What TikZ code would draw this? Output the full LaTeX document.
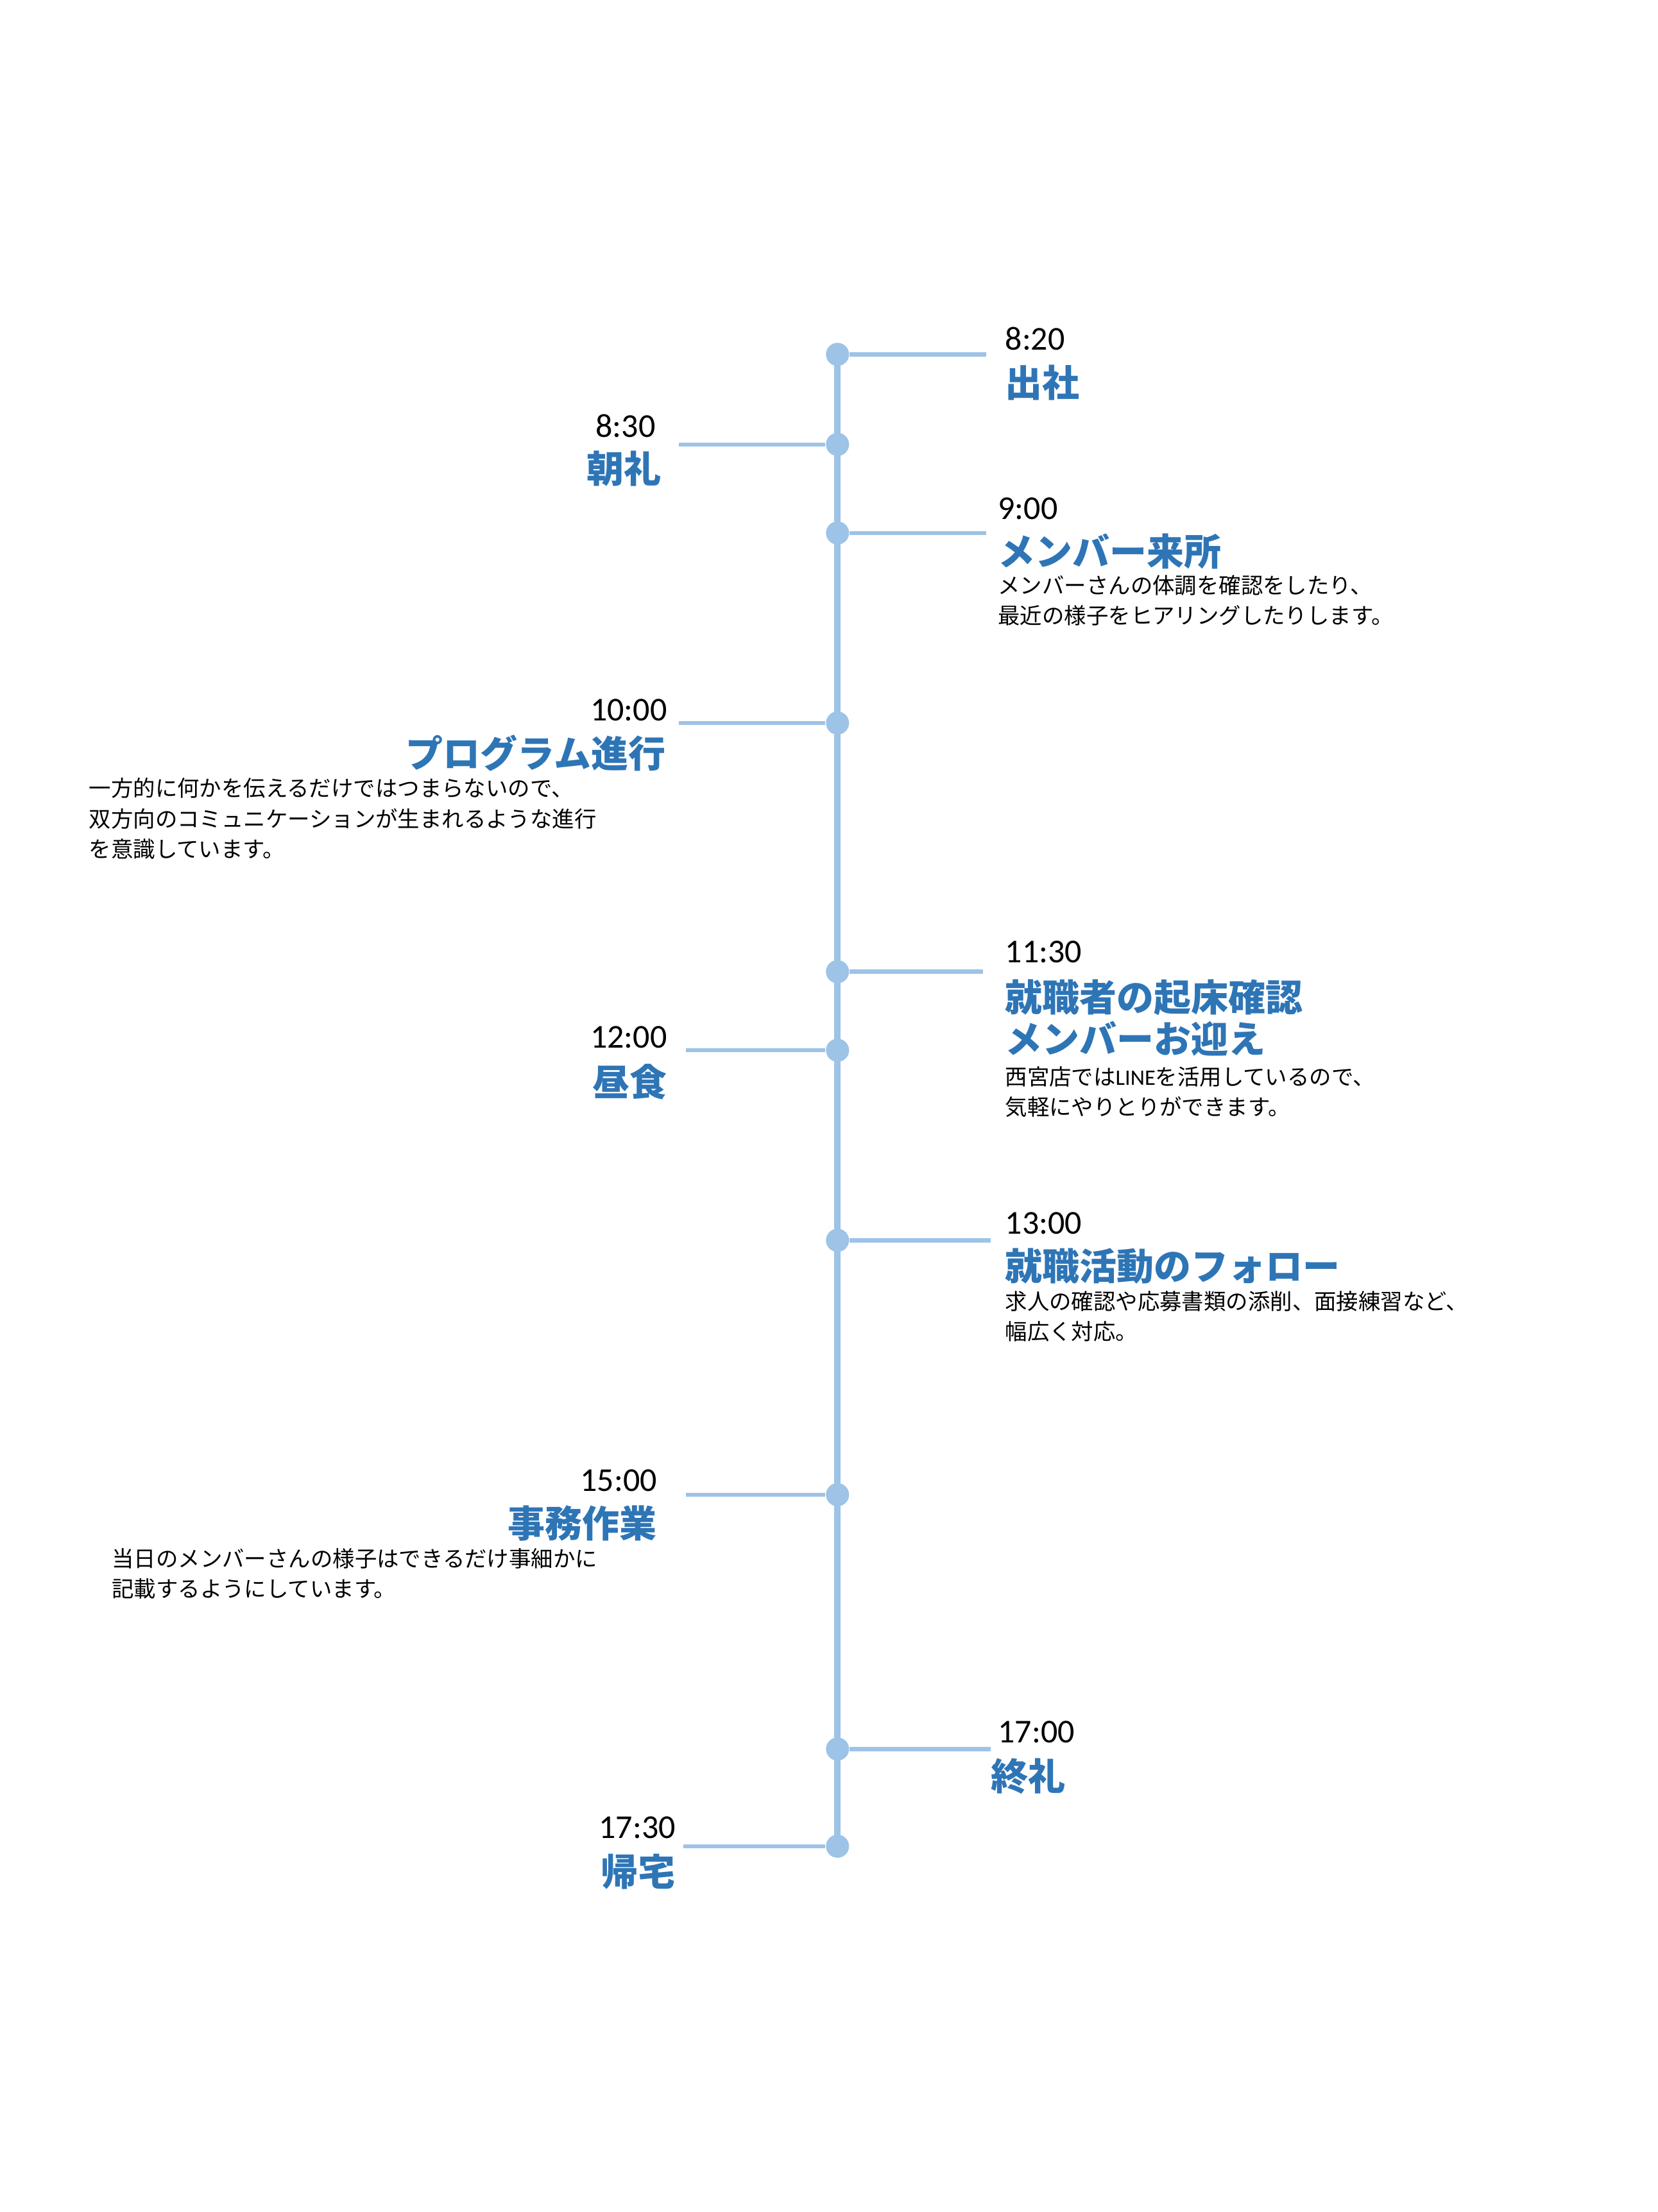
\documentclass[tikz,border=0pt]{standalone}
\usepackage{fontspec}
\setmainfont{Carlito}
\newfontfamily\jp{Noto Sans CJK JP}
\definecolor{tl}{HTML}{9DC3E6}
\definecolor{tb}{HTML}{2E75B6}
\begin{document}
\begin{tikzpicture}[x=0.5567pt,y=-0.5567pt,
 dot/.style={circle,fill=tl,inner sep=0pt,minimum size=9pt},
 br/.style={draw=tl,line width=1.6pt},
 tm/.style={inner sep=0pt,font=\fontsize{13}{15}\selectfont},
 ttl/.style={inner sep=0pt,text=tb,font=\jp\bfseries\fontsize{14.5}{17}\selectfont},
 bd/.style={inner sep=0pt,align=left,font=\jp\fontsize{8.6}{11.9}\selectfont}]
\useasboundingbox (0,0) rectangle (1160,1548);
\coordinate (top) at (586,248);
\coordinate (bot) at (586,1292);
\draw[tl,line width=2.6pt] (top) -- (bot);
\foreach \n/\y in {a/248,b/311,c/373,d/506,e/680,f/735,g/868,h/1046,i/1224,j/1292}
  \node[dot] (\n) at (586,\y) {};
% right side
\coordinate (ae) at (690,248); \draw[br] (a) -- (ae);
\node[tm,anchor=west] (at) at (703,237) {8:20};
\node[ttl,anchor=west] (att) at (703,268) {\jp 出社};
\coordinate (ce) at (690,373); \draw[br] (c) -- (ce);
\node[tm,anchor=west] (ct) at (698,356) {9:00};
\node[ttl,anchor=west] (ctt) at (698,386) {\jp メンバー来所};
\node[bd,anchor=north west] (cb) at (698,402) {メンバーさんの体調を確認をしたり、\\最近の様子をヒアリングしたりします。};
\coordinate (ee) at (688,680); \draw[br] (e) -- (ee);
\node[tm,anchor=west] (et) at (703,666) {11:30};
\node[ttl,anchor=north west,align=left,font=\jp\bfseries\fontsize{14.5}{16.4}\selectfont] (ett) at (703,685) {就職者の起床確認\\メンバーお迎え};
\node[bd,anchor=north west] (eb) at (703,746) {西宮店では{\fontspec{Carlito}LINE}を活用しているので、\\気軽にやりとりができます。};
\coordinate (ge) at (693,868); \draw[br] (g) -- (ge);
\node[tm,anchor=west] (gt) at (703,856) {13:00};
\node[ttl,anchor=west] (gtt) at (703,886) {就職活動のフォロー};
\node[bd,anchor=north west] (gb) at (703,903) {求人の確認や応募書類の添削、面接練習など、\\幅広く対応。};
\coordinate (ie) at (693,1224); \draw[br] (i) -- (ie);
\node[tm,anchor=west] (it) at (698,1212) {17:00};
\node[ttl,anchor=west] (itt) at (693,1243) {終礼};
% left side
\coordinate (be) at (475,311); \draw[br] (b) -- (be);
\node[tm,anchor=east] (bt) at (459,298) {8:30};
\node[ttl,anchor=east] (btt) at (463,328) {朝礼};
\coordinate (de) at (475,506); \draw[br] (d) -- (de);
\node[tm,anchor=east] (dt) at (467,497) {10:00};
\node[ttl,anchor=east] (dtt) at (466,527) {プログラム進行};
\node[bd,anchor=north west] (db) at (62,544) {一方的に何かを伝えるだけではつまらないので、\\双方向のコミュニケーションが生まれるような進行\\を意識しています。};
\coordinate (fe) at (480,735); \draw[br] (f) -- (fe);
\node[tm,anchor=east] (ft) at (467,726) {12:00};
\node[ttl,anchor=east] (ftt) at (467,757) {昼食};
\coordinate (he) at (480,1046); \draw[br] (h) -- (he);
\node[tm,anchor=east] (ht) at (460,1036) {15:00};
\node[ttl,anchor=east] (htt) at (460,1066) {事務作業};
\node[bd,anchor=north west] (hb) at (78,1083) {当日のメンバーさんの様子はできるだけ事細かに\\記載するようにしています。};
\coordinate (je) at (478,1292); \draw[br] (j) -- (je);
\node[tm,anchor=east] (jt) at (473,1279) {17:30};
\node[ttl,anchor=east] (jtt) at (473,1310) {帰宅};
\end{tikzpicture}
\end{document}
